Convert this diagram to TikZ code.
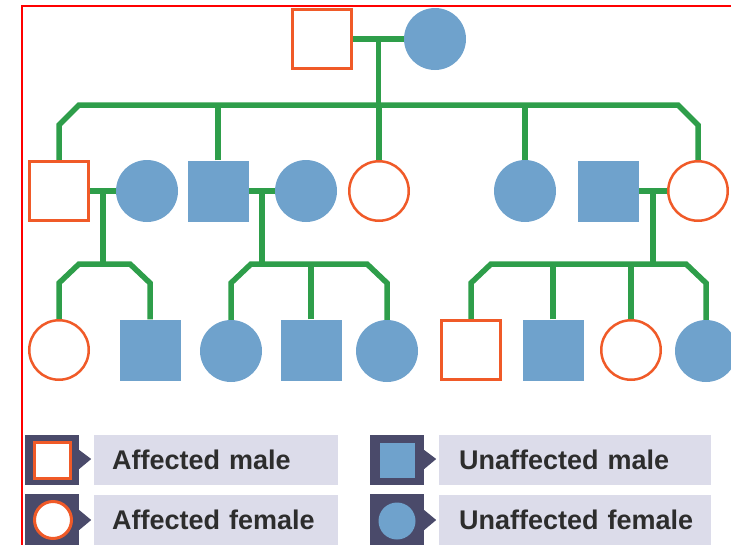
\documentclass[tikz,border=0pt]{standalone}
\usepackage{fontspec}
\setmainfont{Liberation Sans}
\usetikzlibrary{calc,backgrounds}
\definecolor{affcol}{RGB}{240,90,40}
\definecolor{unacol}{RGB}{111,162,204}
\definecolor{kincol}{RGB}{46,158,74}
\definecolor{keydark}{RGB}{74,74,106}
\definecolor{keylight}{RGB}{220,220,234}
\definecolor{keytext}{RGB}{45,45,45}

\begin{document}
\begin{tikzpicture}[x=1pt,y=-1pt,
    male/.style={rectangle,inner sep=0pt},
    female/.style={circle,inner sep=0pt},
    affm/.style={male,draw=affcol,line width=2.5pt,fill=white,minimum size=59pt},
    unam/.style={male,fill=unacol,minimum size=61pt},
    afff/.style={female,draw=affcol,line width=2.5pt,fill=white,minimum size=59.5pt},
    unaf/.style={female,fill=unacol,minimum size=62pt},
    kin/.style={draw=kincol,line width=5.5pt},
    keybox/.style={rectangle,fill=keydark,minimum width=54pt,minimum height=50pt,inner sep=0pt},
    keylabel/.style={rectangle,fill=keylight,anchor=west,align=left,minimum height=50pt,
      text=keytext,font=\fontsize{27}{30}\selectfont\bfseries}]
  \useasboundingbox (0,0) rectangle (731,544);
  \clip (0,0) rectangle (731,544);
  \draw[red,line width=1.5pt] (22,6) rectangle (760,580);

  % generation I
  \node[affm] (g1m) at (322,39) {};
  \node[unaf] (g1f) at (435,39) {};
  % generation II
  \node[affm] (c1) at (59,191) {};
  \node[unaf] (s1) at (147,191) {};
  \node[unam] (c2) at (218,191) {};
  \node[unaf] (s2) at (306,191) {};
  \node[afff] (c3) at (379,191) {};
  \node[unaf] (c4) at (525,191) {};
  \node[unam] (s4) at (608,191) {};
  \node[afff] (c5) at (698,191) {};
  % generation III
  \node[afff] (d1) at (59,350) {};
  \node[unam] (d2) at (150,350) {};
  \node[unaf] (d3) at (231,351) {};
  \node[unam] (d4) at (311,350) {};
  \node[unaf] (d5) at (387,351) {};
  \node[affm] (d6) at (471,350) {};
  \node[unam] (d7) at (553,350) {};
  \node[afff] (d8) at (631,350) {};
  \node[unaf] (d9) at (706,351) {};

  \coordinate (bar1) at (0,105);  \coordinate (cut1) at (0,125);
  \coordinate (bar2) at (0,264);  \coordinate (cut2) at (0,283);
  \coordinate (m1) at ($(g1m.east)!.5!(g1f.west)$);
  \coordinate (m2) at ($(c1.east)!.5!(s1.west)$);
  \coordinate (m3) at ($(c2.east)!.5!(s2.west)$);
  \coordinate (m4) at ($(s4.east)!.5!(c5.west)$);

  \begin{scope}[on background layer,every path/.append style={kin}]
    \path (g1m.east) -- (g1f.west);  \path (m1) -- (m1 |- bar1);
    \path (c1.east) -- (s1.west);  \path (c2.east) -- (s2.west);  \path (s4.east) -- (c5.west);
    \path (c1.north) -- (c1 |- cut1) -- ($(c1 |- bar1)+(20,0)$) -- ($(c5 |- bar1)+(-20,0)$)
      -- (c5 |- cut1) -- (c5.north);
    \foreach\k in {c2,c3,c4} \path (\k.north) -- (\k |- bar1);
    \foreach\m/\a/\b in {m2/d1/d2,m3/d3/d5,m4/d6/d9} {
      \path (\m) -- (\m |- bar2);
      \path (\a.north) -- (\a |- cut2) -- ($(\a |- bar2)+(20,0)$) -- ($(\b |- bar2)+(-20,0)$)
        -- (\b |- cut2) -- (\b.north);
    }
    \foreach\k in {d4,d7,d8} \path (\k.north) -- (\k |- bar2);
  \end{scope}

  % key
  \node[keybox] (k1) at (52,460) {};
  \node[keybox] (k2) at (397,460) {};
  \node[keybox,minimum height=60pt] (k3) at (52,524) {};
  \node[keybox,minimum height=60pt] (k4) at (397,524) {};
  \foreach\k in {k1,k2} \fill[keydark] ($(\k.east)+(0,-10)$) -- ($(\k.east)+(12,-1)$) -- ($(\k.east)+(0,9)$) -- cycle;
  \foreach\k in {k3,k4} \fill[keydark] ($(\k.east)+(0,-14)$) -- ($(\k.east)+(12,-4)$) -- ($(\k.east)+(0,6)$) -- cycle;
  \node[affm,minimum size=36pt,line width=3pt] (ka) at (k1) {};
  \node[unam,minimum size=35pt] (kb) at (k2) {};
  \node[afff,minimum size=37pt,line width=3pt] (kc) at (53,520) {};
  \node[unaf,minimum size=37pt] (kd) at (397,521) {};
  \node[keylabel,text width=208pt,inner xsep=18pt] (la) at (94,460) {\mbox{Affected male}};
  \node[keylabel,text width=232pt,inner xsep=20pt] (lb) at (439,460) {\mbox{Unaffected male}};
  \node[keylabel,text width=208pt,inner xsep=18pt] (lc) at (94,520) {\mbox{Affected female}};
  \node[keylabel,text width=232pt,inner xsep=20pt] (ld) at (439,520) {\mbox{Unaffected female}};
\end{tikzpicture}
\end{document}
